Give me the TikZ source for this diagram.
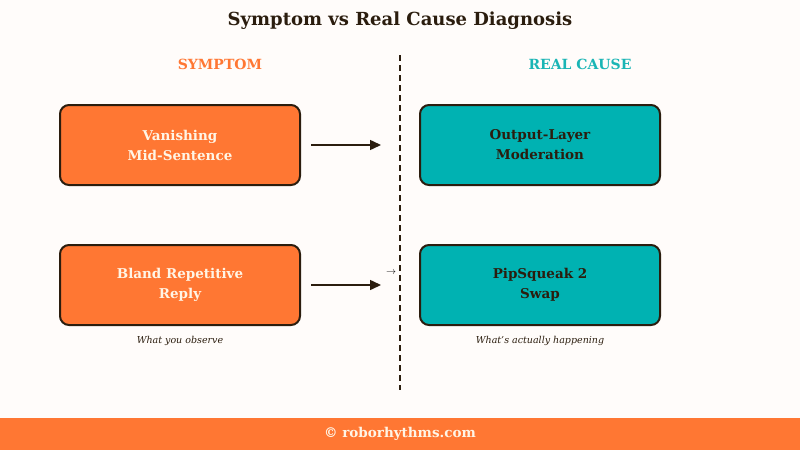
\documentclass[tikz,border=0pt]{standalone}
\usepackage{fontspec}
\setmainfont{DejaVu Serif}
\usetikzlibrary{arrows.meta}
\definecolor{bgc}{HTML}{FFFCFA}
\definecolor{orng}{HTML}{FF7733}
\definecolor{teal2}{HTML}{00B2B2}
\definecolor{tealtxt}{HTML}{1AB5B5}
\definecolor{dark}{HTML}{2B1D0E}
\definecolor{cream}{HTML}{FFF5E6}
\begin{document}
\begin{tikzpicture}[x=1pt,y=-1pt,
  symbox/.style={draw=dark,line width=2pt,rounded corners=9pt,fill=orng,minimum width=240pt,minimum height=80pt,text=cream,font=\bfseries\fontsize{13.5}{20}\selectfont,align=center},
  causebox/.style={draw=dark,line width=2pt,rounded corners=9pt,fill=teal2,minimum width=240pt,minimum height=80pt,text=dark,font=\bfseries\fontsize{13.5}{20}\selectfont,align=center},
  conn/.style={draw=dark,line width=1.5pt,-{Triangle[length=11pt,width=10pt]}},
  hdr/.style={font=\bfseries\fontsize{14}{18}\selectfont},
  note/.style={font=\itshape\fontsize{9.5}{12}\selectfont,text=dark}]
\useasboundingbox (0,0) rectangle (800,450);
\fill[bgc] (0,0) rectangle (800,450);
\fill[orng] (0,418) rectangle (800,450);
\node[font=\bfseries\fontsize{18}{24}\selectfont,text=dark] (title) at (400,21) {Symptom vs Real Cause Diagnosis};
\node[hdr,text=orng] (hs) at (220,64) {SYMPTOM};
\node[hdr,text=tealtxt] (hc) at (580,64) {REAL CAUSE};
\coordinate (dtop) at (400,55);
\coordinate (dbot) at (400,390);
\draw[dark,line width=1.5pt,dash pattern=on 6pt off 4pt] (dtop) -- (dbot);
\node[symbox] (s1) at (180,145) {Vanishing\\Mid-Sentence};
\node[symbox] (s2) at (180,285) {Bland Repetitive\\Reply};
\node[causebox] (c1) at (540,145) {Output-Layer\\Moderation};
\node[causebox] (c2) at (540,285) {PipSqueak 2\\Swap};
\draw[conn] ([xshift=10pt]s1.east) -- ([xshift=-38pt]c1.west);
\draw[conn] ([xshift=10pt]s2.east) -- ([xshift=-38pt]c2.west);
\node[font=\fontsize{10}{10}\selectfont,text=black] (sm) at (391,273) {$\rightarrow$};
\node[note] (n1) at (180,341) {What you observe};
\node[note] (n2) at (540,341) {What's actually happening};
\node[font=\bfseries\fontsize{13.5}{16}\selectfont,text=cream] (foot) at (400,434) {© roborhythms.com};
\end{tikzpicture}
\end{document}
